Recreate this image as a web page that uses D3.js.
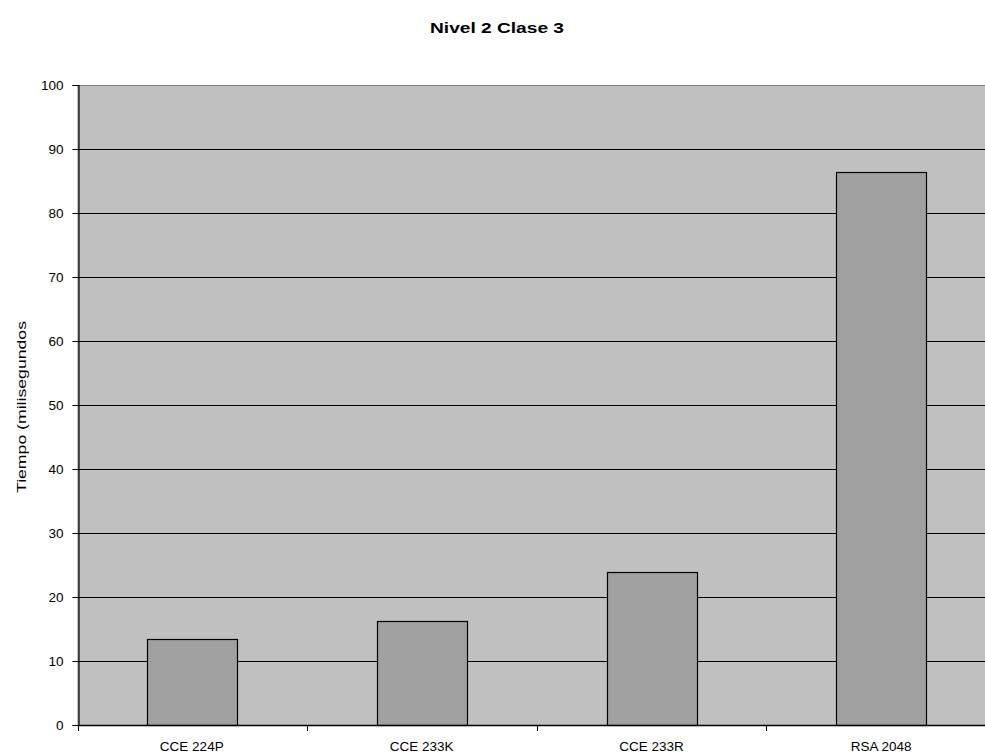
<!DOCTYPE html>
<html>
<head>
<meta charset="utf-8">
<script src="https://cdn.jsdelivr.net/npm/d3@7"></script>
<style>
  html, body { margin: 0; padding: 0; background: #fff; }
  svg { display: block; }
</style>
</head>
<body>
<script>
// Chart data
const categories = ["CCE 224P", "CCE 233K", "CCE 233R", "RSA 2048"];
const tiempos = [13.4, 16.3, 23.9, 86.4];
const yTicks = [0, 10, 20, 30, 40, 50, 60, 70, 80, 90, 100];
const chartTitle = "Nivel 2 Clase 3";
const yTitle = "Tiempo (milisegundos";

const W = 985, H = 755;
const plot = { left: 78, right: 995, top: 85, bottom: 725 };
const FONT = "Arial, 'Liberation Sans', sans-serif";

const svg = d3.select("body").append("svg")
  .attr("width", W).attr("height", H);

const x = d3.scaleBand().domain(categories).range([plot.left, plot.right])
  .paddingInner(0.61).paddingOuter(0.3);
const band = d3.scaleBand().domain(categories).range([plot.left, plot.right]);
const y = d3.scaleLinear().domain([0, 100]).range([plot.bottom, plot.top]);

// plot background
svg.append("rect")
  .attr("x", plot.left).attr("y", plot.top + 0.5)
  .attr("width", plot.right - plot.left).attr("height", plot.bottom - plot.top)
  .attr("fill", "#c0c0c0").attr("stroke", "#808080").attr("stroke-width", 1);

// gridlines
svg.append("g").selectAll("line")
  .data(yTicks.filter(d => d > 0 && d < 100))
  .join("line")
  .attr("x1", plot.left).attr("x2", plot.right)
  .attr("y1", d => Math.round(y(d)) + 0.5).attr("y2", d => Math.round(y(d)) + 0.5)
  .attr("stroke", "#000").attr("stroke-width", 1);

// bars
svg.append("g").selectAll("rect")
  .data(categories)
  .join("rect")
  .attr("x", d => Math.round(x(d)) + 0.5)
  .attr("y", (d, i) => Math.round(y(tiempos[i])) + 0.5)
  .attr("width", Math.round(x.bandwidth()))
  .attr("height", (d, i) => y(0) - Math.round(y(tiempos[i])))
  .attr("fill", "#a0a0a0").attr("stroke", "#000").attr("stroke-width", 1.2);

// y axis
const yAxis = d3.axisLeft(y).tickValues(yTicks).tickSize(6).tickPadding(9);
const gy = svg.append("g").attr("transform", `translate(${plot.left + 0.5},0)`).call(yAxis);
gy.select(".domain").attr("stroke", "#000").attr("stroke-width", 1.2);
gy.selectAll(".tick line").attr("stroke", "#000");
gy.selectAll(".tick text")
  .attr("font-family", FONT)
  .attr("font-size", 13.5).attr("fill", "#000");

// x axis with ticks on category boundaries
svg.append("line")
  .attr("x1", plot.left).attr("x2", plot.right)
  .attr("y1", plot.bottom + 0.5).attr("y2", plot.bottom + 0.5)
  .attr("stroke", "#000").attr("stroke-width", 1.5);
svg.append("g").selectAll("line")
  .data(categories)
  .join("line")
  .attr("x1", d => Math.round(band(d) + band.bandwidth()) + 0.5)
  .attr("x2", d => Math.round(band(d) + band.bandwidth()) + 0.5)
  .attr("y1", plot.bottom).attr("y2", plot.bottom + 6)
  .attr("stroke", "#000");
svg.append("line")
  .attr("x1", plot.left + 0.5).attr("x2", plot.left + 0.5)
  .attr("y1", plot.bottom).attr("y2", plot.bottom + 6)
  .attr("stroke", "#000");

svg.append("g").selectAll("text")
  .data(categories)
  .join("text")
  .attr("x", d => x(d) + x.bandwidth() / 2)
  .attr("y", plot.bottom + 26)
  .attr("text-anchor", "middle")
  .attr("font-family", FONT)
  .attr("font-size", 13.5).attr("fill", "#000")
  .text(d => d);

// titles
svg.append("text")
  .attr("x", 497).attr("y", 33)
  .attr("text-anchor", "middle")
  .attr("font-family", FONT)
  .attr("font-size", 15.5).attr("font-weight", "bold").attr("fill", "#000")
  .attr("textLength", 134).attr("lengthAdjust", "spacingAndGlyphs")
  .text(chartTitle);

svg.append("text")
  .attr("transform", "translate(26,407) rotate(-90)")
  .attr("text-anchor", "middle")
  .attr("font-family", FONT)
  .attr("font-size", 13.5).attr("fill", "#000")
  .attr("textLength", 172).attr("lengthAdjust", "spacingAndGlyphs")
  .text(yTitle);
</script>
</body>
</html>
